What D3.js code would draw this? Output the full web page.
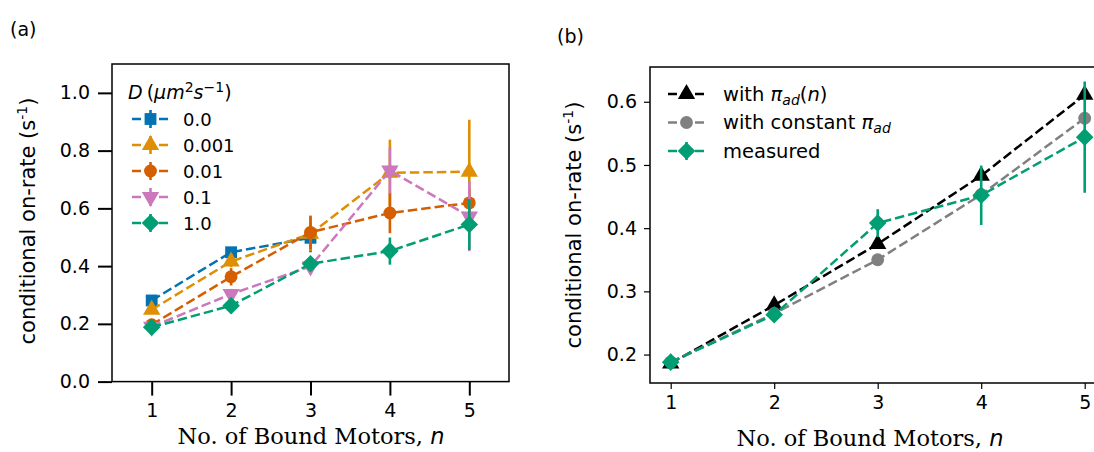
<!DOCTYPE html>
<html>
<head>
<meta charset="utf-8">
<script src="https://cdn.jsdelivr.net/npm/d3@7"></script>
<style>
  body { margin: 0; background: #fff; }
  svg { display: block; font-family: "DejaVu Sans", sans-serif; }
  .tick text { font-family: "DejaVu Sans", sans-serif; }
</style>
</head>
<body>
<svg id="fig" width="1094" height="452"></svg>
<script>
// number of bound motors on the x axis
var motors = [1, 2, 3, 4, 5]

// panel (a): conditional on-rate per diffusion constant D
var dLabels = ["0.0", "0.001", "0.01", "0.1", "1.0"]
var rateD0 = [0.281, 0.448, 0.498]
var errD0 = [0.012, 0.015, 0.05]
var rateD0001 = [0.249, 0.416, 0.512, 0.723, 0.727]
var errD0001 = [0.012, 0.02, 0.06, 0.115, 0.18]
var rateD001 = [0.197, 0.363, 0.517, 0.584, 0.619]
var errD001 = [0.012, 0.03, 0.058, 0.07, 0.05]
var rateD01 = [0.19, 0.303, 0.399, 0.731, 0.572]
var errD01 = [0.01, 0.018, 0.018, 0.08, 0.12]
var rateD1 = [0.188, 0.263, 0.408, 0.452, 0.544]
var errD1 = [0.006, 0.01, 0.022, 0.047, 0.088]

// panel (b): model vs measured
var rateModelN = [0.186, 0.278, 0.375, 0.483, 0.611]
var rateModelConst = [0.188, 0.265, 0.35, 0.453, 0.574]
var rateMeasured = [0.188, 0.263, 0.408, 0.452, 0.544]
var errMeasured = [0.006, 0.01, 0.022, 0.047, 0.088]

var ticksA = [0.0, 0.2, 0.4, 0.6, 0.8, 1.0]
var ticksB = [0.2, 0.3, 0.4, 0.5, 0.6]

var svg = d3.select("#fig")

var symbols = {
    square: d3.symbolSquare,
    triangle: d3.symbolTriangle,
    circle: d3.symbolCircle,
    diamond: d3.symbolSquare,
    tri_down: d3.symbolTriangle
}
var symSize = {square: 140, triangle: 130, circle: 130, diamond: 155, tri_down: 130}

var drawMarker = (g, kind, color, x, y) => {
    var rot = kind == "tri_down" ? " rotate(180)" : kind == "diamond" ? " rotate(45)" : ""
    return g.append("path")
        .attr("d", d3.symbol().type(symbols[kind]).size(symSize[kind])())
        .attr("fill", color)
        .attr("transform", `translate(${x},${y})` + rot)
}

var dash = "9.5,4"

var drawSeries = (g, x, y, vals, errs, color, kind) => {
    var pts = vals.map((v, i) => [motors[i], v, errs ? errs[i] : 0])
    g.append("path")
        .attr("d", d3.line().x(d => x(d[0])).y(d => y(d[1]))(pts))
        .attr("fill", "none")
        .attr("stroke", color)
        .attr("stroke-width", 2.5)
        .attr("stroke-dasharray", dash)
    if (errs) {
        g.selectAll(null).data(pts).enter().append("line")
            .attr("x1", d => x(d[0])).attr("x2", d => x(d[0]))
            .attr("y1", d => y(d[1] - d[2])).attr("y2", d => y(d[1] + d[2]))
            .attr("stroke", color).attr("stroke-width", 2.6)
    }
    pts.forEach(d => drawMarker(g, kind, color, x(d[0]), y(d[1])))
}

var legendRow = (g, x0, y0, color, kind, hasErr) => {
    g.append("line")
        .attr("x1", x0).attr("x2", x0 + 37).attr("y1", y0).attr("y2", y0)
        .attr("stroke", color).attr("stroke-width", 2.5)
        .attr("stroke-dasharray", "9,4.5")
    if (hasErr) {
        g.append("line")
            .attr("x1", x0 + 18.5).attr("x2", x0 + 18.5)
            .attr("y1", y0 - 9).attr("y2", y0 + 9)
            .attr("stroke", color).attr("stroke-width", 2.6)
    }
    drawMarker(g, kind, color, x0 + 18.5, y0)
}

var styleAxis = (ax, w) => {
    ax.select(".domain").remove()
    ax.selectAll(".tick line").attr("stroke", "#000").attr("stroke-width", w)
    ax.selectAll(".tick text").attr("font-size", 19).attr("fill", "#000")
}

var xLabel = (g, cx, cy) => g.append("text")
    .attr("x", cx).attr("y", cy).attr("text-anchor", "middle")
    .attr("font-family", "DejaVu Serif").attr("font-size", 22.5)
    .call(t => {
        t.append("tspan").text("No. of Bound Motors, ")
        t.append("tspan").attr("font-family", "DejaVu Sans").attr("font-style", "italic").text("n")
    })

var yLabel = (g, cx, cy) => g.append("text")
    .attr("transform", `translate(${cx},${cy}) rotate(-90)`).attr("text-anchor", "middle")
    .attr("font-size", 21)
    .call(t => {
        t.append("tspan").text("conditional on-rate (s")
        t.append("tspan").attr("font-size", 14).attr("dy", -8).text("-1")
        t.append("tspan").attr("dy", 8).text(")")
    })

// ---------- panel (a) ----------
var xa = d3.scaleLinear().domain([0.5, 5.5]).range([112, 509])
var ya = d3.scaleLinear().domain([0, 1.1]).range([381.6, 64])
var ga = svg.append("g")

ga.append("g").attr("transform", "translate(0,381.6)")
    .call(d3.axisBottom(xa).tickValues(motors).tickSize(14).tickPadding(8).tickFormat(d3.format("d")))
    .call(ax => styleAxis(ax, 2))
ga.append("g").attr("transform", "translate(112,0)")
    .call(d3.axisLeft(ya).tickValues(ticksA).tickSize(14).tickPadding(8).tickFormat(d3.format(".1f")))
    .call(ax => styleAxis(ax, 2))

ga.append("rect").attr("x", 112).attr("y", 64).attr("width", 397).attr("height", 317.6)
    .attr("fill", "none").attr("stroke", "#000").attr("stroke-width", 1.5)

var colorsA = ["#0173b2", "#de8f05", "#d55e00", "#cc78bc", "#029e73"]
var kindsA = ["square", "triangle", "circle", "tri_down", "diamond"]
var valsA = [rateD0, rateD0001, rateD001, rateD01, rateD1]
var errsA = [errD0, errD0001, errD001, errD01, errD1]
valsA.forEach((v, i) => drawSeries(ga, xa, ya, v, errsA[i], colorsA[i], kindsA[i]))

// legend (a)
var la = ga.append("g")
var title = la.append("text").attr("x", 128).attr("y", 99).attr("font-size", 19)
title.append("tspan").attr("font-style", "italic").text("D")
title.append("tspan").attr("dx", 4).text("(")
title.append("tspan").attr("font-style", "italic").text("μm")
title.append("tspan").attr("font-size", 14).attr("dy", -7.5).text("2")
title.append("tspan").attr("font-style", "italic").attr("dy", 7.5).text("s")
title.append("tspan").attr("font-size", 14).attr("dy", -7.5).text("−1")
title.append("tspan").attr("dy", 7.5).text(")")
dLabels.forEach((lab, i) => {
    var yy = 119 + i * 26
    legendRow(la, 132, yy, colorsA[i], kindsA[i], true)
    la.append("text").attr("x", 183).attr("y", yy + 6.5).attr("font-size", 18).text(lab)
})

xLabel(ga, 311, 444)
yLabel(ga, 35, 221)
svg.append("text").attr("x", 10).attr("y", 36).attr("font-size", 19).text("(a)")

// ---------- panel (b) ----------
var xb = d3.scaleLinear().domain([0.8, 5.2]).range([650, 1105.4])
var yb = d3.scaleLinear().domain([0.155, 0.655]).range([383, 67])
var gb = svg.append("g")

gb.append("g").attr("transform", "translate(0,383)")
    .call(d3.axisBottom(xb).tickValues(motors).tickSize(6).tickPadding(7).tickFormat(d3.format("d")))
    .call(ax => styleAxis(ax, 1.2))
gb.append("g").attr("transform", "translate(650,0)")
    .call(d3.axisLeft(yb).tickValues(ticksB).tickSize(6).tickPadding(7).tickFormat(d3.format(".1f")))
    .call(ax => styleAxis(ax, 1.2))

gb.append("rect").attr("x", 650).attr("y", 67).attr("width", 455.4).attr("height", 316)
    .attr("fill", "none").attr("stroke", "#000").attr("stroke-width", 1.5)

drawSeries(gb, xb, yb, rateModelN, null, "#000", "triangle")
drawSeries(gb, xb, yb, rateModelConst, null, "#808080", "circle")
drawSeries(gb, xb, yb, rateMeasured, errMeasured, "#029e73", "diamond")

// legend (b)
var lb = gb.append("g")
var rowsB = [
    {color: "#000", kind: "triangle", err: false},
    {color: "#808080", kind: "circle", err: false},
    {color: "#029e73", kind: "diamond", err: true}
]
rowsB.forEach((r, i) => legendRow(lb, 668, 94 + i * 28.5, r.color, r.kind, r.err))
var t1 = lb.append("text").attr("x", 723).attr("y", 100.5).attr("font-size", 19.5)
t1.append("tspan").text("with ")
t1.append("tspan").attr("font-style", "italic").text("π")
t1.append("tspan").attr("font-style", "italic").attr("font-size", 14).attr("dy", 4).text("ad")
t1.append("tspan").attr("dy", -4).text("(")
t1.append("tspan").attr("font-style", "italic").text("n")
t1.append("tspan").text(")")
var t2 = lb.append("text").attr("x", 723).attr("y", 129).attr("font-size", 19.5)
t2.append("tspan").text("with constant ")
t2.append("tspan").attr("font-style", "italic").text("π")
t2.append("tspan").attr("font-style", "italic").attr("font-size", 14).attr("dy", 4).text("ad")
lb.append("text").attr("x", 723).attr("y", 157.5).attr("font-size", 19.5).text("measured")

xLabel(gb, 870, 446)
yLabel(gb, 581, 225)
svg.append("text").attr("x", 557).attr("y", 43).attr("font-size", 19).text("(b)")
</script>
</body>
</html>
